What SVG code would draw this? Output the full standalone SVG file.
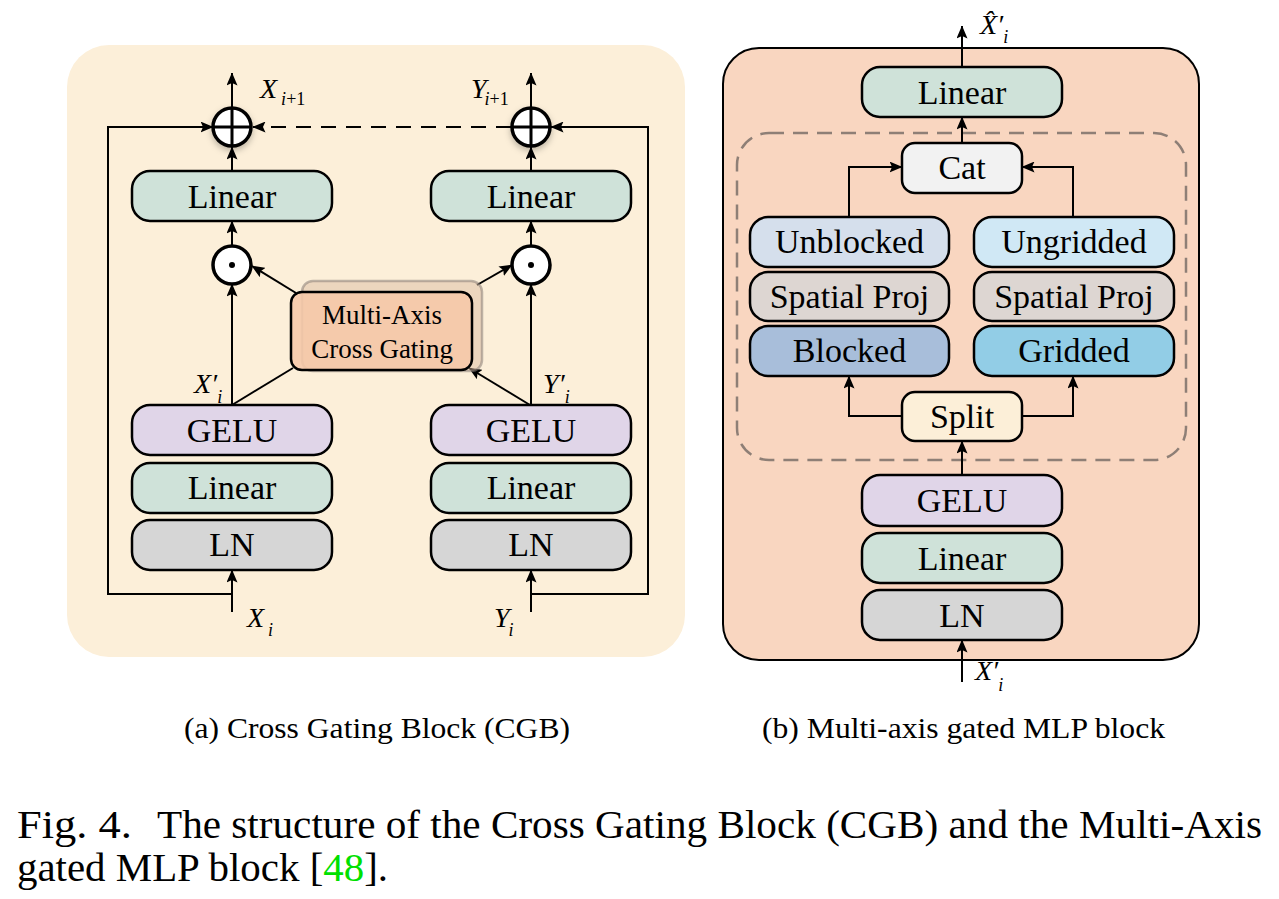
<svg xmlns="http://www.w3.org/2000/svg" width="1279" height="899" viewBox="0 0 1279 899">
<style>
.box{stroke:#000;stroke-width:2.5}
.t{font-family:"Liberation Serif","Times New Roman",serif;font-size:34px;text-anchor:middle;fill:#000}
.m{font-family:"Liberation Serif","Times New Roman",serif;font-style:italic;fill:#000}
.cap{font-family:"Liberation Serif","Times New Roman",serif;fill:#000}
.ln{fill:none;stroke:#000;stroke-width:2}
.arr{fill:none;stroke:#000;stroke-width:2;marker-end:url(#ah)}
.lin{fill:#CFE2D9}
.gelu{fill:#E0D5E8}
.lnf{fill:#D6D6D6}
.op{fill:#fff;stroke:#000;stroke-width:3.5}
</style>
<defs>
<marker id="ah" viewBox="0 0 13 11" refX="12.5" refY="5.5" markerWidth="13" markerHeight="11" orient="auto" markerUnits="userSpaceOnUse">
<path d="M0,0 L13,5.5 L0,11 L2.5,5.5 z" fill="#000"/>
</marker>
<filter id="sh" x="-50%" y="-50%" width="200%" height="200%">
<feDropShadow dx="0" dy="3" stdDeviation="3" flood-color="#000" flood-opacity="0.25"/>
</filter>
</defs>

<g id="panel-a-bg"><rect x="67" y="45" width="618" height="612" rx="42" fill="#FCEFD9"/></g>
<g id="panel-b-bg"><rect x="723" y="48" width="476" height="612" rx="36" fill="#F9D6C0" stroke="#000" stroke-width="2"/></g>
<g id="dashed-region"><rect x="737" y="133" width="449" height="327" rx="32" fill="none" stroke="#8E7F76" stroke-width="2.5" stroke-dasharray="15 9"/></g>

<g id="connectors">
<path class="arr" d="M232,107 V73"/>
<path class="arr" d="M531,107 V73"/>
<path class="arr" d="M232,171 V147"/>
<path class="arr" d="M531,171 V147"/>
<path class="arr" d="M232,245 V221"/>
<path class="arr" d="M531,245 V221"/>
<path class="arr" d="M232,405 V284"/>
<path class="arr" d="M531,405 V284"/>
<path class="ln" d="M232,405 L293,368"/>
<path class="arr" d="M530,405 L469,368"/>
<path class="arr" d="M296,293 L252,266"/>
<path class="arr" d="M477,285 L512,265"/>
<path class="arr" d="M232,612 V570"/>
<path class="arr" d="M531,612 V570"/>
<path class="arr" d="M232,594 H108 V127 H213"/>
<path class="arr" d="M531,594 H648 V127 H551"/>
<path class="arr" d="M511,127 H253" stroke-dasharray="15 10"/>
<path class="arr" d="M962,67 V26"/>
<path class="arr" d="M962,143 V117"/>
<path class="arr" d="M849,217 V167 H902"/>
<path class="arr" d="M1073,217 V167 H1022"/>
<path class="arr" d="M902,416 H849 V376"/>
<path class="arr" d="M1022,416 H1073 V376"/>
<path class="arr" d="M962,475 V441"/>
<path class="arr" d="M962,682 V640"/>
</g>

<g id="plus-left"><circle class="op" cx="232" cy="127" r="19" filter="url(#sh)"/><path d="M232,108 V146 M213,127 H251" stroke="#000" stroke-width="3"/></g>
<g id="plus-right"><circle class="op" cx="531" cy="127" r="19" filter="url(#sh)"/><path d="M531,108 V146 M512,127 H550" stroke="#000" stroke-width="3"/></g>
<g id="odot-left"><circle class="op" cx="232" cy="265" r="19"/><circle cx="232" cy="265" r="3" fill="#000"/></g>
<g id="odot-right"><circle class="op" cx="531" cy="265" r="19"/><circle cx="531" cy="265" r="3" fill="#000"/></g>

<g id="linear-a-top-left"><rect class="box lin" x="132" y="171" width="200" height="50" rx="18"/><text class="t" x="232" y="207.5">Linear</text></g>
<g id="linear-a-top-right"><rect class="box lin" x="431" y="171" width="200" height="50" rx="18"/><text class="t" x="531" y="207.5">Linear</text></g>
<g id="gelu-a-left"><rect class="box gelu" x="132" y="405" width="200" height="50" rx="18"/><text class="t" x="232" y="441.5">GELU</text></g>
<g id="gelu-a-right"><rect class="box gelu" x="431" y="405" width="200" height="50" rx="18"/><text class="t" x="531" y="441.5">GELU</text></g>
<g id="linear-a-left"><rect class="box lin" x="132" y="463" width="200" height="50" rx="18"/><text class="t" x="232" y="499">Linear</text></g>
<g id="linear-a-right"><rect class="box lin" x="431" y="463" width="200" height="50" rx="18"/><text class="t" x="531" y="499">Linear</text></g>
<g id="ln-a-left"><rect class="box lnf" x="132" y="520" width="200" height="50" rx="18"/><text class="t" x="232" y="556">LN</text></g>
<g id="ln-a-right"><rect class="box lnf" x="431" y="520" width="200" height="50" rx="18"/><text class="t" x="531" y="556">LN</text></g>

<g id="multi-axis-cross-gating">
<rect x="302" y="281" width="180" height="90" rx="11" fill="#D9B89E" fill-opacity="0.45" stroke="#8A8078" stroke-opacity="0.55" stroke-width="2.5"/>
<rect x="291" y="292" width="181" height="78" rx="11" fill="#F6C8A9" fill-opacity="0.88" stroke="#000" stroke-width="2.5"/>
<text class="t" x="382" y="324" style="font-size:27px">Multi-Axis</text>
<text class="t" x="382" y="358" style="font-size:27px">Cross Gating</text>
</g>

<g id="labels-a">
<text class="m" x="260" y="98" font-size="28">X<tspan dx="4" dy="7" font-size="18">i</tspan><tspan font-size="18" font-style="normal">+1</tspan></text>
<text class="m" x="471" y="98" font-size="28">Y<tspan dx="-2" dy="7" font-size="18">i</tspan><tspan font-size="18" font-style="normal">+1</tspan></text>
<text class="m" x="194" y="393" font-size="28">X′<tspan dx="0" dy="10" font-size="18">i</tspan></text>
<text class="m" x="543" y="393" font-size="28">Y′<tspan dx="0" dy="10" font-size="18">i</tspan></text>
<text class="m" x="247" y="627" font-size="28">X<tspan dx="4" dy="9" font-size="18">i</tspan></text>
<text class="m" x="494" y="627" font-size="28">Y<tspan dx="-1" dy="9" font-size="18">i</tspan></text>
</g>

<g id="linear-b-top"><rect class="box lin" x="862" y="67" width="200" height="50" rx="18"/><text class="t" x="962" y="103.5">Linear</text></g>
<g id="cat"><rect class="box" fill="#F2F2F2" x="902" y="143" width="120" height="50" rx="13"/><text class="t" x="962" y="179">Cat</text></g>
<g id="unblocked"><rect class="box" fill="#D5DFEC" x="750" y="217" width="199" height="50" rx="18"/><text class="t" x="849.5" y="253">Unblocked</text></g>
<g id="ungridded"><rect class="box" fill="#D0E8F5" x="974" y="217" width="200" height="50" rx="18"/><text class="t" x="1074" y="253">Ungridded</text></g>
<g id="spatial-proj-left"><rect class="box" fill="#DDD6D2" x="750" y="272" width="199" height="49" rx="18"/><text class="t" x="849.5" y="308">Spatial Proj</text></g>
<g id="spatial-proj-right"><rect class="box" fill="#DDD6D2" x="974" y="272" width="200" height="49" rx="18"/><text class="t" x="1074" y="308">Spatial Proj</text></g>
<g id="blocked"><rect class="box" fill="#A8BEDA" x="750" y="326" width="199" height="50" rx="18"/><text class="t" x="849.5" y="362">Blocked</text></g>
<g id="gridded"><rect class="box" fill="#92CDE6" x="974" y="326" width="200" height="50" rx="18"/><text class="t" x="1074" y="362">Gridded</text></g>
<g id="split"><rect class="box" fill="#FCEFD8" x="902" y="392" width="120" height="49" rx="13"/><text class="t" x="962" y="428">Split</text></g>
<g id="gelu-b"><rect class="box gelu" x="862" y="475" width="200" height="51" rx="18"/><text class="t" x="962" y="512">GELU</text></g>
<g id="linear-b"><rect class="box lin" x="862" y="533" width="200" height="50" rx="18"/><text class="t" x="962" y="569.5">Linear</text></g>
<g id="ln-b"><rect class="box lnf" x="862" y="590" width="200" height="50" rx="18"/><text class="t" x="962" y="626.5">LN</text></g>

<g id="labels-b">
<text class="m" x="980" y="34" font-size="28">X̂′<tspan dx="0" dy="9" font-size="18">i</tspan></text>
<text class="m" x="975" y="680" font-size="28">X′<tspan dx="0" dy="11" font-size="18">i</tspan></text>
</g>

<g id="captions">
<text class="cap" x="184" y="738" font-size="30" textLength="386" lengthAdjust="spacingAndGlyphs">(a) Cross Gating Block (CGB)</text>
<text class="cap" x="762" y="738" font-size="30" textLength="403" lengthAdjust="spacingAndGlyphs">(b) Multi-axis gated MLP block</text>
<text class="cap" x="17" y="838" font-size="39" textLength="115" lengthAdjust="spacingAndGlyphs">Fig. 4.</text>
<text class="cap" x="157" y="838" font-size="39" textLength="1105" lengthAdjust="spacingAndGlyphs">The structure of the Cross Gating Block (CGB) and the Multi-Axis</text>
<text class="cap" x="17" y="881" font-size="39" textLength="371" lengthAdjust="spacingAndGlyphs">gated MLP block [<tspan fill="#00E000">48</tspan>].</text>
</g>
</svg>
